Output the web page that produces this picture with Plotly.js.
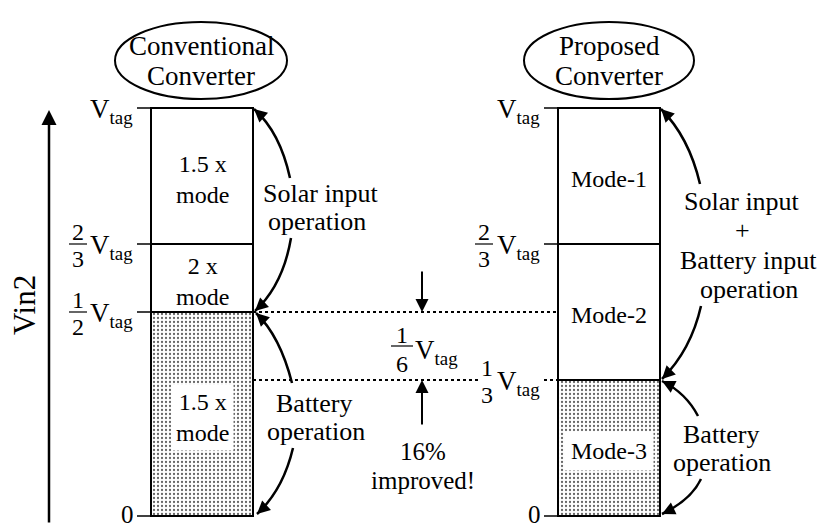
<!DOCTYPE html>
<html><head><meta charset="utf-8">
<script src="https://cdn.plot.ly/plotly-3.0.1.min.js"></script>
<style>html,body{margin:0;padding:0;background:#fff}</style>
</head><body><div id="chart" style="width:817px;height:524px"></div>
<script>
// ---------------- data ----------------
const categories = ['Conventional Converter', 'Proposed Converter'];
const lowerSegment = [1/2, 1/3];   // battery-only band (fraction of Vtag)
const middleSegment = [1/6, 1/3];
const upperSegment = [1/3, 1/3];
const convModeLabels = ['1.5 x<br>mode', '2 x<br>mode', '1.5 x<br>mode'];
const propModeLabels = ['Mode-3', 'Mode-2', 'Mode-1'];
const convTickLevels = [0, 1/2, 2/3, 1];
const convTickNum = ['', '1', '2', ''];
const convTickDen = ['', '2', '3', ''];
const propTickLevels = [0, 1/3, 2/3, 1];
const propTickNum = ['', '1', '2', ''];
const propTickDen = ['', '3', '3', ''];
const tickUnit = 'V<sub>tag</sub>';
const gapFraction = ['1', '6'];
const gapNote = ['16%', 'improved!'];
const convSolarText = ['Solar input', 'operation'];
const convBatteryText = ['Battery', 'operation'];
const propSolarText = ['Solar input', '+', 'Battery input', 'operation'];
const propBatteryText = ['Battery', 'operation'];
const titles = [['Conventional', 'Converter'], ['Proposed', 'Converter']];
const axisLabel = 'Vin2';

// ---------------- geometry helpers ----------------
const W = 817, H = 524;
const Y0 = 516, UNIT = 408;            // pixel row of 0, pixels per Vtag
const CAT0 = 202, CATSTEP = 407, BARW = 102;
const px = x => x / W;
const py = y => 1 - y / H;
const lvl = v => Y0 - UNIT * v;
const FONT = 'Liberation Serif, Times New Roman, serif';
const BLACK = '#000';

const segs = [lowerSegment, middleSegment, upperSegment];
const traces = segs.map((s, k) => ({
  type: 'bar', x: categories, y: s, width: BARW / CATSTEP,
  marker: {
    color: '#fff', line: {color: BLACK, width: 1.5},
    pattern: k === 0 ? {shape: '.', fgcolor: '#666', bgcolor: '#fff', size: 4, solidity: 0.25} : {shape: ''}
  },
  hoverinfo: 'skip', showlegend: false
}));

const ann = [];
const shapes = [];
function txt(text, x, y, size, opts) {
  ann.push(Object.assign({text, x: px(x), y: py(y), xref: 'paper', yref: 'paper', showarrow: false,
    font: {family: FONT, size, color: BLACK}, xanchor: 'center', yanchor: 'middle'}, opts || {}));
}
function txtV(text, x, v, size, yshift, opts) {
  ann.push(Object.assign({text, x: px(x), y: v, xref: 'paper', yref: 'y', yshift, showarrow: false,
    font: {family: FONT, size, color: BLACK}, xanchor: 'center', yanchor: 'middle'}, opts || {}));
}
function lines(arr, x, y0, step, size) { arr.forEach((t, i) => txt(t, Array.isArray(x) ? x[i] : x, y0 + i * step, size)); }
function head(tx, ty, fx, fy, len) {
  const dx = fx - tx, dy = fy - ty, L = Math.hypot(dx, dy);
  len = len || 11;
  ann.push({x: px(tx), y: py(ty), xref: 'paper', yref: 'paper', ax: dx / L * len, ay: dy / L * len,
    showarrow: true, arrowhead: 2, arrowsize: 1.3, arrowwidth: 2, arrowcolor: BLACK, text: '', standoff: 0});
}
function curve(x0, y0, cx, cy, x1, y1) {
  shapes.push({type: 'path', xref: 'paper', yref: 'paper',
    path: `M ${px(x0)} ${py(y0)} Q ${px(cx)} ${py(cy)} ${px(x1)} ${py(y1)}`,
    line: {color: BLACK, width: 2.5}});
  head(x1, y1, cx, cy);
}
function hline(x0, x1, v, dash, width) {
  shapes.push({type: 'line', xref: 'paper', yref: 'y', x0: px(x0), x1: px(x1), y0: v, y1: v,
    line: {color: BLACK, width: width || 1.5, dash: dash || 'solid'}});
}

// ---------------- segment labels ----------------
[convModeLabels, propModeLabels].forEach((labels, i) => {
  let base = 0;
  labels.forEach((lab, k) => {
    const mid = base + segs[k][i] / 2;
    const opts = k === 0 ? {bgcolor: '#fff', borderpad: i === 0 ? 4 : 6} : {};
    txtV(lab, CAT0 + CATSTEP * i, mid, 24, -3, opts);
    base += segs[k][i];
  });
});

// ---------------- tick marks and labels ----------------
const barLeft = i => CAT0 + CATSTEP * i - BARW / 2;
const barRight = i => CAT0 + CATSTEP * i + BARW / 2;
[[convTickLevels, convTickNum, convTickDen], [propTickLevels, propTickNum, propTickDen]].forEach((t, i) => {
  const L = barLeft(i);
  const fracX = i === 0 ? 78 : 484;
  t[0].forEach((v, k) => {
    const isDottedLevel = i === 1 && v === lowerSegment[1];
    hline(L - 14, L, v, isDottedLevel ? 'dot' : 'solid', isDottedLevel ? 2 : 1.5);
    if (v === 0) {
      txtV('0', L - 15, v, 25, 2, {xanchor: 'right'});
    } else {
      txtV(tickUnit, L - 16, v, 27, -3, {xanchor: 'right'});
    }
    if (t[1][k]) {
      const fx = isDottedLevel ? fracX + 3 : fracX;
      txtV(t[1][k], fx, v, 24, 12);
      txtV(t[2][k], fx, v, 24, -15);
      if (!isDottedLevel) hline(fx - 9, fx + 9, v, 'solid', 1.2);
    }
  });
});

// ---------------- dotted guide lines ----------------
hline(barRight(0), barLeft(1), lowerSegment[0], 'dot', 2.2);
hline(barRight(0), 480, lowerSegment[1], 'dot', 2.2);

// ---------------- 1/6 Vtag gap ----------------
const gapMid = (lowerSegment[0] + lowerSegment[1]) / 2;
txtV(gapFraction[0], 402, gapMid, 24, 11);
txtV(gapFraction[1], 402, gapMid, 24, -18);
hline(391, 413, gapMid, 'solid', 1.2);
txtV(tickUnit, 413, gapMid, 27, -6, {xanchor: 'left'});
ann.push({x: px(422), y: lowerSegment[0], xref: 'paper', yref: 'y', ax: 0, ay: -42, showarrow: true,
  arrowhead: 2, arrowsize: 1.3, arrowwidth: 2, arrowcolor: BLACK, text: '', standoff: 0});
ann.push({x: px(422), y: lowerSegment[1], xref: 'paper', yref: 'y', ax: 0, ay: 46, showarrow: true,
  arrowhead: 2, arrowsize: 1.3, arrowwidth: 2, arrowcolor: BLACK, text: '', standoff: 0});
lines(gapNote, 423, 451, 29, 25);

// ---------------- side texts ----------------
lines(convSolarText, [321, 317], 193, 28, 26);
lines(convBatteryText, [314, 316], 403, 28, 26);
lines(propSolarText, [742, 742, 748, 749], 201, 29.5, 26);
lines(propBatteryText, [721, 722], 434, 28.5, 26);

// ---------------- curved arrows ----------------
curve(290, 178, 280, 132, 254, lvl(1) + 1);
curve(291, 238, 283, 285, 255, lvl(lowerSegment[0]) - 1);
curve(292, 383, 280, 336, 256, lvl(lowerSegment[0]) + 1);
curve(293, 448, 283, 490, 257, lvl(0) - 2);
curve(700, 184, 689, 137, 661, lvl(1) + 1);
curve(701, 306, 691, 350, 662, lvl(lowerSegment[1]) - 1);
curve(698, 416, 686, 393, 662, lvl(lowerSegment[1]) + 1);
curve(701, 479, 691, 500, 662, lvl(0) - 2);

// ---------------- title ellipses ----------------
[[115, 287], [524, 694]].forEach((xr, i) => {
  shapes.push({type: 'circle', xref: 'paper', yref: 'paper', x0: px(xr[0]), x1: px(xr[1]),
    y0: py(99), y1: py(22), line: {color: BLACK, width: 2}});
  const cx = (xr[0] + xr[1]) / 2;
  txt(titles[i][0], cx, 46, 27);
  txt(titles[i][1], cx, 76, 27);
});

// ---------------- vertical axis arrow ----------------
ann.push({x: px(49), y: py(110), xref: 'paper', yref: 'paper', ax: 0, ay: 414, showarrow: true,
  arrowhead: 2, arrowsize: 1.2, arrowwidth: 2.5, arrowcolor: BLACK, text: '', standoff: 0});
txt(axisLabel, 24, 305, 31, {textangle: -90});

const layout = {
  width: W, height: H, margin: {l: 0, r: 0, t: 0, b: 0},
  paper_bgcolor: '#fff', plot_bgcolor: '#fff',
  barmode: 'stack', showlegend: false,
  xaxis: {type: 'category', range: [-CAT0 / CATSTEP, (W - CAT0) / CATSTEP], visible: false, fixedrange: true},
  yaxis: {range: [(Y0 - H) / UNIT, Y0 / UNIT], visible: false, fixedrange: true},
  annotations: ann, shapes: shapes
};
Plotly.newPlot('chart', traces, layout, {displayModeBar: false, staticPlot: true});
</script></body></html>
